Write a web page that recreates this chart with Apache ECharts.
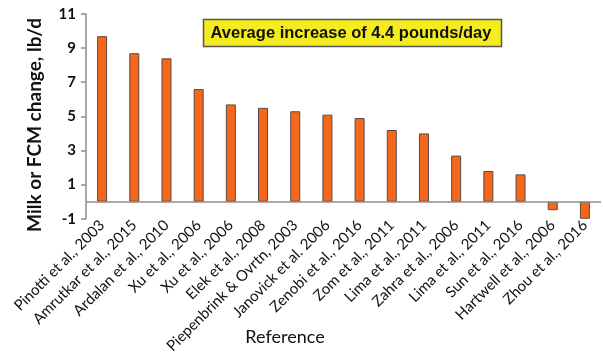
<!DOCTYPE html>
<html>
<head>
<meta charset="utf-8">
<script src="https://cdn.jsdelivr.net/npm/echarts@6/dist/echarts.min.js"></script>
<style>
html,body{margin:0;padding:0;background:#fff;}
#chart{width:603px;height:356px;}
</style>
</head>
<body>
<div id="chart"></div>
<script>
// Studies, ordered by response
const studies = [
  'Pinotti et al., 2003', 'Amrutkar et al., 2015', 'Ardalan et al., 2010', 'Xu et al., 2006',
  'Xu et al., 2006', 'Elek et al., 2008', 'Piepenbrink & Ovrtn, 2003', 'Janovick et al. 2006',
  'Zenobi et al., 2016', 'Zom et al., 2011', 'Lima et al., 2011', 'Zahra et al., 2006',
  'Lima et al., 2011', 'Sun et al., 2016', 'Hartwell et al., 2006', 'Zhou et al., 2016'
];
// Milk or FCM change, lb/d
const milkChange = [9.7, 8.7, 8.4, 6.6, 5.7, 5.5, 5.3, 5.1, 4.9, 4.2, 4.0, 2.7, 1.8, 1.6, -0.5, -1.0];
const yTicks = { min: -1, max: 11, step: 2 };
const noteText = 'Average increase of 4.4 pounds/day';

const chart = echarts.init(document.getElementById('chart'), null, { renderer: 'canvas' });
const lbl = 'Lato, "Open Sans", sans-serif';

chart.setOption({
  animation: false,
  grid: { left: 86, right: 2, top: 14, bottom: 136 },
  xAxis: {
    type: 'category',
    data: studies,
    axisLine: { show: false, onZero: false },
    axisTick: { show: false },
    axisLabel: {
      interval: 0, rotate: 45, margin: 4,
      fontFamily: lbl, fontSize: 15, color: '#111'
    }
  },
  yAxis: {
    type: 'value',
    min: yTicks.min, max: yTicks.max, interval: yTicks.step,
    axisLine: { show: true, lineStyle: { color: '#8c8c8c', width: 1.5 } },
    axisTick: { show: true, length: 5, lineStyle: { color: '#8c8c8c', width: 1.5 } },
    splitLine: { show: false },
    axisLabel: { fontFamily: lbl, fontWeight: 'bold', fontSize: 15, color: '#111', margin: 10 }
  },
  series: [{
    type: 'bar',
    data: milkChange,
    barWidth: 10,
    itemStyle: { color: '#f4681e', borderColor: '#5a4a40', borderWidth: 1 },
    markLine: {
      silent: true, symbol: 'none', label: { show: false },
      lineStyle: { color: '#8c8c8c', width: 1.5, type: 'solid' },
      data: [{ yAxis: 0 }]
    },
    z: 2
  }],
  graphic: [
    {
      type: 'text', x: 35, y: 125, rotation: Math.PI / 2,
      style: {
        text: 'Milk or FCM change, lb/d', fontFamily: lbl, fontWeight: 'bold', fontSize: 19,
        fill: '#111', align: 'center', verticalAlign: 'middle'
      }
    },
    {
      type: 'text', x: 285, y: 337,
      style: {
        text: 'Reference', fontFamily: lbl, fontSize: 18, fill: '#111',
        align: 'center', verticalAlign: 'middle'
      }
    },
    {
      type: 'rect', shape: { x: 203.5, y: 19.5, width: 298, height: 27 },
      style: { fill: '#f4ec1f', stroke: '#555', lineWidth: 1.5 }
    },
    {
      type: 'text', x: 351, y: 33,
      style: {
        text: noteText, fontFamily: '"Liberation Sans", Arial, sans-serif', fontWeight: 'bold',
        fontSize: 16.5, fill: '#111', align: 'center', verticalAlign: 'middle'
      }
    }
  ]
});
</script>
</body>
</html>
